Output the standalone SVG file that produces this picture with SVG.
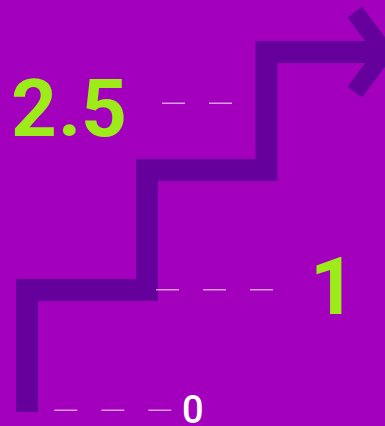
<svg xmlns="http://www.w3.org/2000/svg" width="385" height="426" viewBox="0 0 385 426">
  <style>
    .stair { fill: none; stroke: #66009c; stroke-linejoin: miter; stroke-miterlimit: 10; }
    .dash { stroke: #ffffff; stroke-opacity: 0.6; stroke-width: 1.6; stroke-dasharray: 23 24; fill: none; }
    .big { font-family: Roboto, "Liberation Sans", sans-serif; font-weight: 700; font-size: 80px; fill: #9eeb1a; }
    .zero { font-family: Roboto, "Liberation Sans", sans-serif; font-weight: 500; font-size: 38px; fill: #ffffff; }
  </style>
  <rect width="385" height="426" fill="#a300bd"/>
  <g id="connectors">
    <polyline id="staircase" class="stair" stroke-width="22" points="27,412 27,290 147,290 147,170 266.5,170 266.5,52 384,52"/>
    <polyline id="arrowhead" class="stair" stroke-width="18" points="354.8,12 384.8,52 354.8,92"/>
    <line class="dash" x1="162" y1="103.3" x2="236" y2="103.3"/>
    <line class="dash" x1="156" y1="289.7" x2="276" y2="289.7"/>
    <line class="dash" x1="54.3" y1="410.3" x2="175" y2="410.3"/>
  </g>
  <g id="label-2-5"><text class="big" x="11 58 81" y="135.5">2.5</text></g>
  <g id="label-1"><text class="big" x="310" y="313.5">1</text></g>
  <g id="label-0"><text class="zero" x="182" y="422.5">0</text></g>
</svg>
